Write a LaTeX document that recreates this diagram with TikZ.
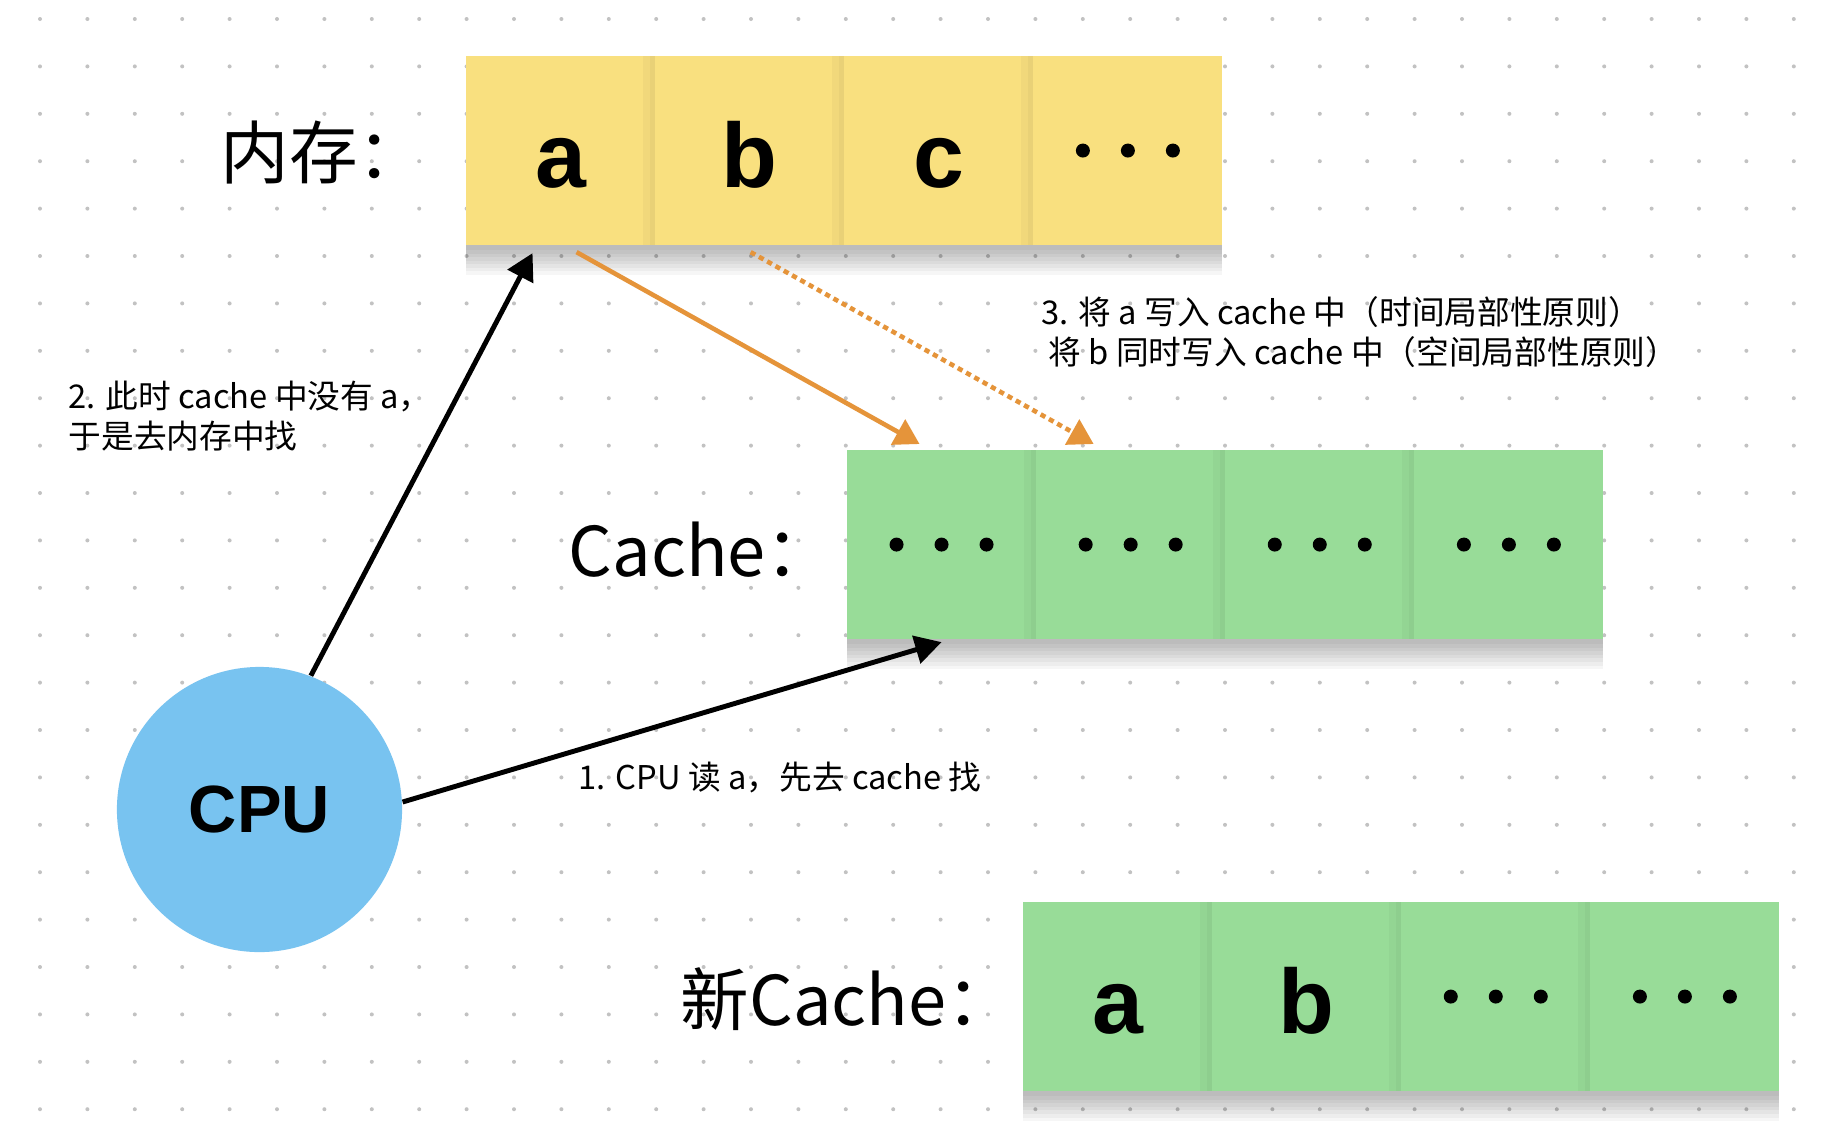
\documentclass[tikz,border=0pt]{standalone}
\usepackage{fontspec}
\setsansfont{Liberation Sans}
\newfontfamily\cjk{Noto Sans CJK SC}
\usetikzlibrary{positioning,arrows.meta}

\begin{document}
\begin{tikzpicture}
	[x=0.01cm,y=-0.01cm,
	%Styles
	shadowstep/.style={preaction={fill=black,opacity=.035,transform canvas={yshift=-#1}}},
	cell/.style={rectangle,inner sep=0pt,outer sep=0pt,minimum width=1.89cm,minimum height=1.89cm,
		text height=0.74cm,text depth=0pt,font=\sffamily\bfseries\fontsize{26}{30}\selectfont,
		shadowstep=1.5pt,shadowstep=2.5pt,shadowstep=3.5pt,shadowstep=4.5pt,
		shadowstep=5.5pt,shadowstep=6.5pt,shadowstep=7.5pt,shadowstep=8.5pt},
	joined/.style={path picture={
		\fill[black,opacity=.03] ([xshift=-3.5pt]path picture bounding box.north east) rectangle (path picture bounding box.south east);
		\fill[black,opacity=.03] ([xshift=-1.5pt]path picture bounding box.north east) rectangle (path picture bounding box.south east);}},
	memcell/.style={cell,fill=memyellow},
	cachecell/.style={cell,fill=cachegreen},
	heading/.style={anchor=west,inner sep=0pt,font=\cjk\fontsize{19.5}{23}\selectfont},
	note/.style={anchor=west,inner sep=0pt,align=left,font=\cjk\fontsize{9.3}{11.4}\selectfont},
	readline/.style={-{Triangle[length=7.5pt,width=8pt]},line width=1.4pt},
	copyline/.style={-{Triangle[length=7pt,width=8pt]},line width=1.3pt,copyorange},
	griddot/.style={fill=dotgray}
	]
	
	%Colors
	\definecolor{memyellow}{HTML}{F9E07F}
	\definecolor{cachegreen}{HTML}{98DC98}
	\definecolor{cpublue}{HTML}{78C3F0}
	\definecolor{copyorange}{HTML}{E5943A}
	\definecolor{dotgray}{HTML}{C2C2C2}
	
	%Canvas
	\fill[white] (0,0) rectangle (1832,1126);
	\useasboundingbox (0,0) rectangle (1832,1126);
	\foreach \i in {0,...,37}
		\foreach \j in {0,...,23}
			\fill[griddot] ({40+47.4*\i},{19+47.4*\j}) circle (2);
	
	%Memory
	\node[heading] (memlabel) at (220,152) {内存：};
	\node[memcell,joined,anchor=north west] (m1) at (466,56) {a};
	\node[memcell,joined,right=0pt of m1] (m2) {b};
	\node[memcell,joined,right=0pt of m2] (m3) {c};
	\node[memcell,right=0pt of m3] (m4) {};
	
	%Cache
	\node[heading] (cachelabel) at (568,550) {Cache：};
	\node[cachecell,joined,anchor=north west] (c1) at (847,450) {};
	\node[cachecell,joined,right=0pt of c1] (c2) {};
	\node[cachecell,joined,right=0pt of c2] (c3) {};
	\node[cachecell,right=0pt of c3] (c4) {};
	
	%New cache
	\node[heading] (newlabel) at (680,999) {新Cache：};
	\node[cachecell,joined,anchor=north west] (n1) at (1023,902) {a};
	\node[cachecell,joined,right=0pt of n1] (n2) {b};
	\node[cachecell,joined,right=0pt of n2] (n3) {};
	\node[cachecell,right=0pt of n3] (n4) {};
	
	%Ellipsis dots
	\foreach \cellname in {m4,c1,c2,c3,c4,n3,n4}
		\foreach \dx in {-45,0,45}
			\fill (\cellname.center) ++(\dx,0) circle (7);
	
	\node[circle,fill=cpublue,minimum size=2.85cm,inner sep=0pt,
		font=\sffamily\bfseries\fontsize{19}{22}\selectfont] (cpu) at (259.5,809.5) {CPU};
	
	%Arrows
	\coordinate (memtip) at ([xshift=-0.28cm,yshift=-0.08cm]m1.south);
	\coordinate (cachetip) at ([yshift=-0.03cm]c1.south);
	\draw[readline] (cpu.3) -- (cachetip);
	\draw[readline] (cpu.69) -- (memtip);
	\draw[copyline] ([xshift=0.16cm,yshift=-0.07cm]m1.south) -- ([xshift=-0.22cm,yshift=0.06cm]c1.north);
	\draw[copyline,dash pattern=on 1.5pt off 1.2pt] ([xshift=0.01cm,yshift=-0.07cm]m2.south) -- ([xshift=-0.37cm,yshift=0.06cm]c2.north);
	
	%Notes
	\node[note] (step1) at (578,777) {1. CPU 读 a，先去 cache 找};
	\node[note] (step2) at (68,416) {2. 此时 cache 中没有 a，\\于是去内存中找};
	\node[note] (step3) at (1041,332) {3. 将 a 写入 cache 中（时间局部性原则）\\\hspace{2pt}将 b 同时写入 cache 中（空间局部性原则）};
\end{tikzpicture}
\end{document}
